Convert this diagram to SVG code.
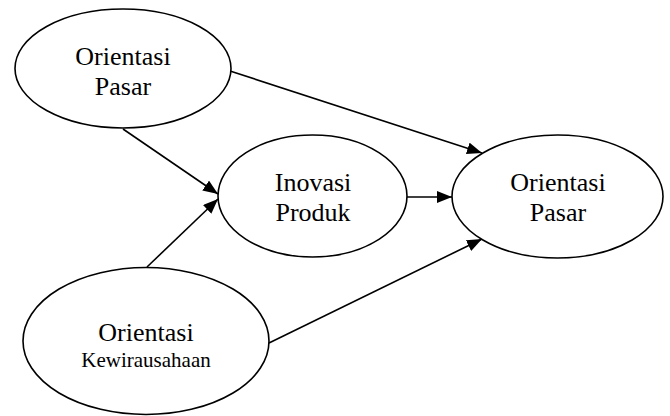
<svg xmlns="http://www.w3.org/2000/svg" width="670" height="416" viewBox="0 0 670 416">
<style>
.node ellipse{fill:#fff;stroke:#000;stroke-width:1.6}
.t{font-family:"Liberation Serif","Times New Roman",serif;font-size:26px;fill:#000;text-anchor:middle}
.s{font-size:21px}
.edges line{stroke:#000;stroke-width:1.6;marker-end:url(#ah)}
</style>
<defs>
<marker id="ah" markerUnits="userSpaceOnUse" markerWidth="16" markerHeight="13" refX="15" refY="6" orient="auto">
<path d="M0,0 L15,6 L0,12 z" fill="#000"/>
</marker>
</defs>
<rect width="670" height="416" fill="#fff"/>
<g class="edges">
<line x1="230" y1="71" x2="482" y2="153"/>
<line x1="123" y1="129" x2="218" y2="194"/>
<line x1="147" y1="267" x2="218" y2="199"/>
<line x1="407" y1="197" x2="452" y2="197"/>
<line x1="269" y1="343" x2="482" y2="239"/>
</g>
<g id="orientasi-pasar-1" class="node">
<ellipse cx="123" cy="68.5" rx="108" ry="59.5"/>
<text class="t" x="123" y="65">Orientasi</text>
<text class="t" x="123" y="95">Pasar</text>
</g>
<g id="inovasi-produk" class="node">
<ellipse cx="312.5" cy="196" rx="94.5" ry="61"/>
<text class="t" x="313" y="191">Inovasi</text>
<text class="t" x="313" y="221">Produk</text>
</g>
<g id="orientasi-pasar-2" class="node">
<ellipse cx="557.5" cy="196.5" rx="105.5" ry="61.5"/>
<text class="t" x="558" y="191">Orientasi</text>
<text class="t" x="558" y="221">Pasar</text>
</g>
<g id="orientasi-kewirausahaan" class="node">
<ellipse cx="146" cy="341" rx="123" ry="73.5"/>
<text class="t" x="146" y="341">Orientasi</text>
<text class="t s" x="146" y="367">Kewirausahaan</text>
</g>
</svg>
